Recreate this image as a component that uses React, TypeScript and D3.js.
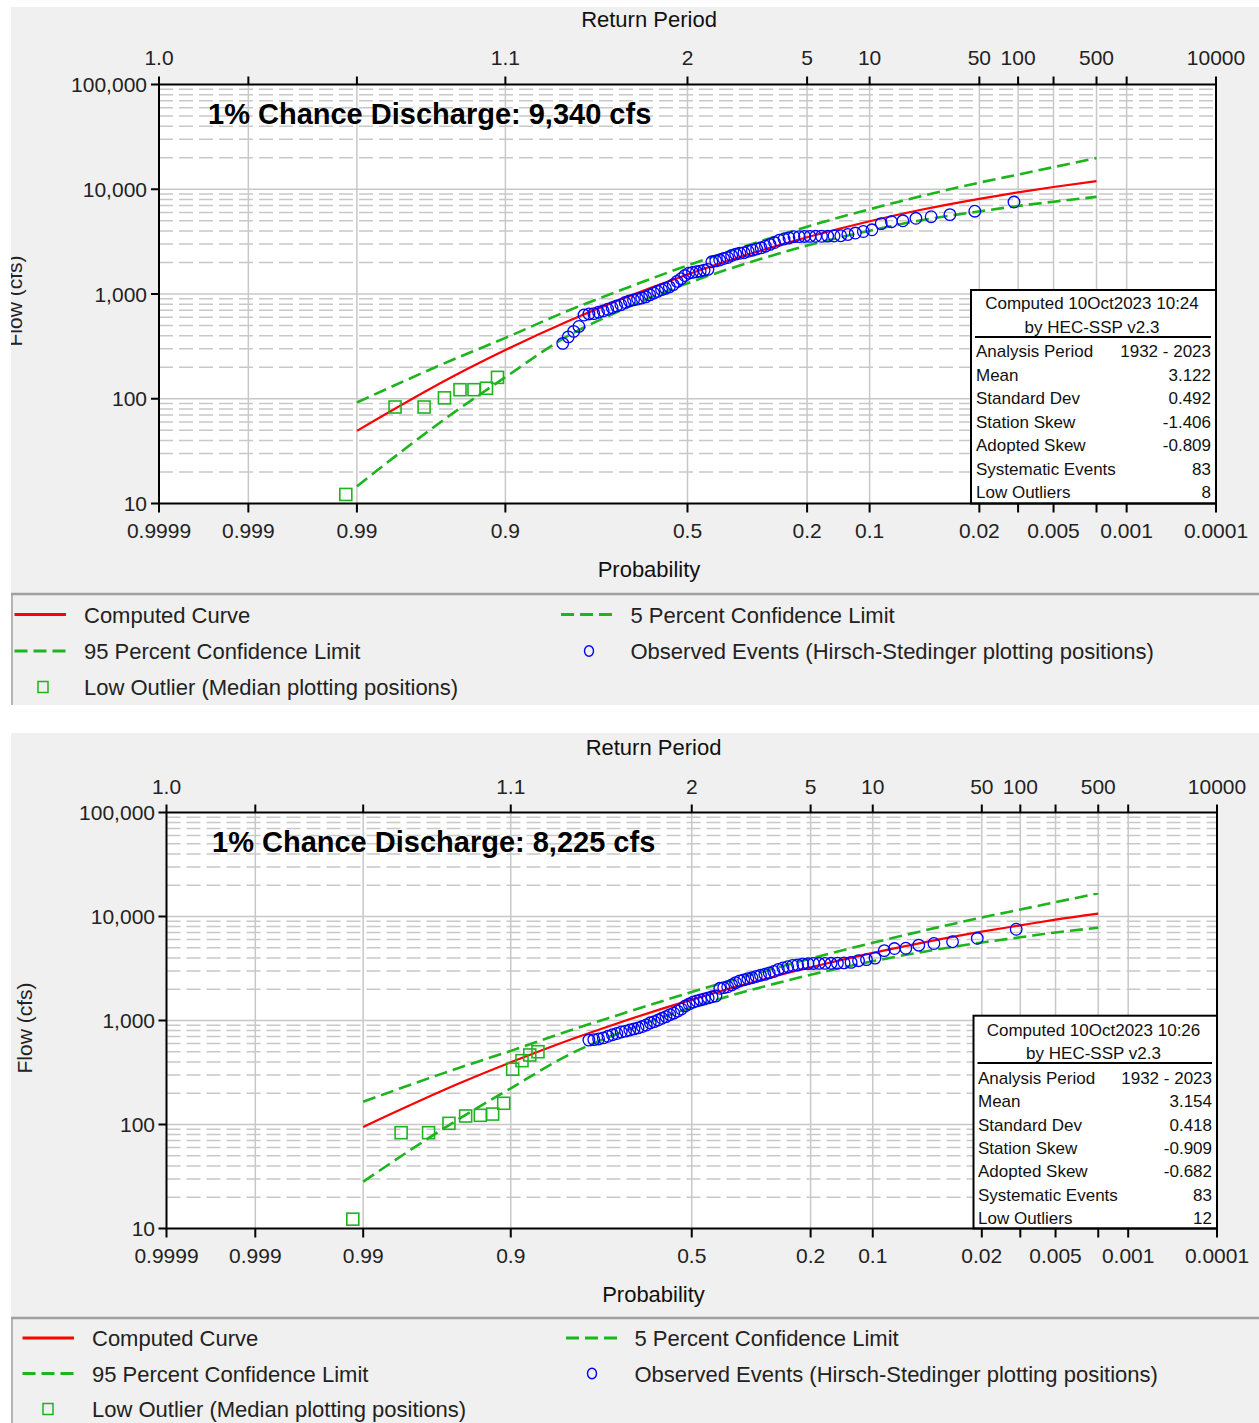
import React from 'react';
import * as d3 from 'd3';

const FONT = "'Liberation Sans', Arial, Helvetica, sans-serif";

// ---------- shared axis definitions ----------
const probTicks = [0.9999, 0.999, 0.99, 0.9, 0.5, 0.2, 0.1, 0.02, 0.01, 0.005, 0.002, 0.001, 0.0001];
const probLabels = ['0.9999', '0.999', '0.99', '0.9', '0.5', '0.2', '0.1', '0.02', '', '0.005', '', '0.001', '0.0001'];
const returnLabels = ['1.0', '', '', '1.1', '2', '5', '10', '50', '100', '', '500', '', '10000'];
const flowTicks = [10, 100, 1000, 10000, 100000];
const flowLabels = ['10', '100', '1,000', '10,000', '100,000'];

const statLabels = ['Analysis Period', 'Mean', 'Standard Dev', 'Station Skew', 'Adopted Skew', 'Systematic Events', 'Low Outliers'];
const legendLabels = [
  'Computed Curve',
  '5 Percent Confidence Limit',
  '95 Percent Confidence Limit',
  'Observed Events (Hirsch-Stedinger plotting positions)',
  'Low Outlier (Median plotting positions)',
];

// exceedance probabilities at which the frequency curves are tabulated
const curveProbs = [0.99, 0.95, 0.9, 0.8, 0.7, 0.5, 0.3, 0.2, 0.1, 0.05, 0.02, 0.01, 0.005, 0.002];

// ---------- run computed 10Oct2023 10:24 ----------
const computedA = [49.4, 165, 292, 550, 832, 1538, 2620, 3483, 4945, 6373, 8100, 9340, 10500, 11950];
const upperA = [92, 238, 381, 692, 1019, 1871, 3224, 4385, 6446, 8597, 11570, 13810, 16260, 19840];
const lowerA = [14.6, 73.7, 160.7, 398, 646, 1265, 2180, 2897, 4020, 5062, 6145, 6924, 7606, 8460];
const obsProbsA = [
  0.0108, 0.0216, 0.0324, 0.0432, 0.054, 0.0648, 0.0756, 0.0864, 0.0972, 0.108,
  0.1188, 0.1296, 0.1404, 0.1512, 0.162, 0.1728, 0.1836, 0.1944, 0.2052, 0.216,
  0.2268, 0.2376, 0.2484, 0.2592, 0.27, 0.2808, 0.2916, 0.3024, 0.3132, 0.324,
  0.3348, 0.3456, 0.3564, 0.3672, 0.378, 0.3888, 0.3996, 0.4104, 0.4212, 0.432,
  0.4428, 0.4536, 0.4644, 0.4752, 0.486, 0.4968, 0.5076, 0.5184, 0.5292, 0.54,
  0.5508, 0.5616, 0.5724, 0.5832, 0.594, 0.6048, 0.6156, 0.6264, 0.6372, 0.648,
  0.6588, 0.6696, 0.6804, 0.6912, 0.702, 0.7128, 0.7236, 0.7344, 0.7452, 0.756,
  0.7668, 0.7776, 0.7884, 0.7992, 0.81,
];
const obsFlowsA = [
  7550, 6170, 5720, 5470, 5280, 5000, 4900, 4700, 4100, 3950,
  3820, 3700, 3600, 3580, 3570, 3560, 3555, 3550, 3545, 3530,
  3520, 3430, 3350, 3260, 3100, 2980, 2860, 2760, 2690, 2620,
  2560, 2480, 2450, 2400, 2330, 2230, 2180, 2110, 2070, 2030,
  1720, 1690, 1650, 1630, 1610, 1580, 1500, 1400, 1320, 1230,
  1170, 1130, 1100, 1060, 1020, 980, 940, 915, 895, 878,
  860, 830, 790, 770, 740, 715, 690, 670, 650, 645,
  630, 490, 440, 390, 338,
];
const lowProbsA = [0.9094, 0.9214, 0.9335, 0.9453, 0.9564, 0.9681, 0.9802, 0.9919];
const lowFlowsA = [160, 126, 122, 122, 102, 83.4, 83.4, 12.2];
const statsA = ['1932 - 2023', '3.122', '0.492', '-1.406', '-0.809', '83', '8'];
const stampA = 'Computed 10Oct2023 10:24';

// ---------- run computed 10Oct2023 10:26 ----------
const computedB = [94.8, 249, 396, 667, 942, 1588, 2522, 3247, 4464, 5648, 7164, 8225, 9325, 10650];
const upperB = [165.6, 351.7, 510.6, 820, 1125, 1879, 3012, 3950, 5594, 7325, 9775, 11670, 13730, 16730];
const lowerB = [28.2, 113.8, 222.9, 490, 748.5, 1336, 2147, 2751, 3712, 4591, 5625, 6311, 7024, 7789];
const obsProbsB = [
  0.0108, 0.0216, 0.0324, 0.0432, 0.054, 0.0648, 0.0756, 0.0864, 0.0972, 0.108,
  0.1188, 0.1296, 0.1404, 0.1512, 0.162, 0.1728, 0.1836, 0.1944, 0.2052, 0.216,
  0.2268, 0.2376, 0.2484, 0.2592, 0.27, 0.2808, 0.2916, 0.3024, 0.3132, 0.324,
  0.3348, 0.3456, 0.3564, 0.3672, 0.378, 0.3888, 0.3996, 0.4104, 0.4212, 0.432,
  0.4428, 0.4536, 0.4644, 0.4752, 0.486, 0.4968, 0.5076, 0.5184, 0.5292, 0.54,
  0.5508, 0.5616, 0.5724, 0.5832, 0.594, 0.6048, 0.6156, 0.6264, 0.6372, 0.648,
  0.6588, 0.6696, 0.6804, 0.6912, 0.702, 0.7128, 0.7236, 0.7344, 0.7452, 0.756,
  0.7668,
];
const obsFlowsB = [
  7540, 6170, 5720, 5500, 5300, 4950, 4920, 4700, 3980, 3850,
  3760, 3620, 3580, 3560, 3550, 3545, 3540, 3535, 3525, 3500,
  3430, 3380, 3290, 3200, 3100, 2960, 2870, 2780, 2720, 2650,
  2580, 2520, 2460, 2400, 2310, 2200, 2110, 2070, 2040, 1720,
  1690, 1650, 1610, 1575, 1540, 1500, 1440, 1380, 1290, 1230,
  1175, 1140, 1090, 1050, 1010, 975, 950, 905, 875, 850,
  830, 810, 790, 775, 750, 730, 705, 680, 665, 655,
  648,
];
const lowProbsB = [0.8619, 0.8743, 0.8853, 0.8976, 0.9085, 0.9207, 0.9328, 0.9453, 0.9572, 0.9688, 0.9802, 0.9918];
const lowFlowsB = [501, 466, 411, 340, 160, 126, 122.5, 120.7, 102.6, 83.4, 83.4, 12.3];
const statsB = ['1932 - 2023', '3.154', '0.418', '-0.909', '-0.682', '83', '12'];
const stampB = 'Computed 10Oct2023 10:26';

// ---------- colours ----------
const RED = '#ff0000';
const GREEN = '#1db41d';
const BLUE = '#0000ff';
const GRID = '#c8c8c8';
const PANEL_BG = '#f0f0f0';

// inverse standard normal CDF (Acklam's rational approximation)
function qnorm(p: number): number {
  const a = [-3.969683028665376e1, 2.209460984245205e2, -2.759285104469687e2, 1.38357751867269e2, -3.066479806614716e1, 2.506628277459239];
  const b = [-5.447609879822406e1, 1.615858368580409e2, -1.556989798598866e2, 6.680131188771972e1, -1.328068155288572e1];
  const c = [-7.784894002430293e-3, -3.223964580411365e-1, -2.400758277161838, -2.549732539343734, 4.374664141464968, 2.938163982698783];
  const d = [7.784695709041462e-3, 3.224671290700398e-1, 2.445134137142996, 3.754408661907416];
  const pl = 0.02425;
  if (p < pl) {
    const q = Math.sqrt(-2 * Math.log(p));
    return (((((c[0] * q + c[1]) * q + c[2]) * q + c[3]) * q + c[4]) * q + c[5]) /
      ((((d[0] * q + d[1]) * q + d[2]) * q + d[3]) * q + 1);
  }
  if (p > 1 - pl) {
    const q = Math.sqrt(-2 * Math.log(1 - p));
    return -(((((c[0] * q + c[1]) * q + c[2]) * q + c[3]) * q + c[4]) * q + c[5]) /
      ((((d[0] * q + d[1]) * q + d[2]) * q + d[3]) * q + 1);
  }
  const q = p - 0.5;
  const r = q * q;
  return (((((a[0] * r + a[1]) * r + a[2]) * r + a[3]) * r + a[4]) * r + a[5]) * q /
    (((((b[0] * r + b[1]) * r + b[2]) * r + b[3]) * r + b[4]) * r + 1);
}
// normal-probability position of an exceedance probability
const zOf = (pExceed: number) => qnorm(1 - pExceed);

type Layout = {
  id: string;
  bgTop: number; bgBottom: number;
  left: number; right: number; top: number; bottom: number;
  returnTitleY: number; titleCx: number;
  topLabelY: number; bottomLabelY: number; probTitleY: number;
  flowTitleX: number; flowTitleCy: number; flowLabelRight: number;
  chanceX: number; chanceY: number;
  boxLeft: number; boxTop: number; stampCx: number; stampY: number; byY: number; sepY: number;
  sepX1: number; sepX2: number; rowY0: number; rowStep: number; statLabelX: number; statValueX: number;
  legTop: number; legRows: number[]; c1x1: number; c1x2: number; c1tx: number;
  c2x1: number; c2x2: number; c2tx: number; circleX: number; squareX: number;
};

const layoutA: Layout = {
  id: 'a', bgTop: 7, bgBottom: 705,
  left: 159, right: 1216, top: 84.5, bottom: 503.5,
  returnTitleY: 26.5, titleCx: 649, topLabelY: 65, bottomLabelY: 538, probTitleY: 577,
  flowTitleX: 21.5, flowTitleCy: 301, flowLabelRight: 147,
  chanceX: 208, chanceY: 123.5,
  boxLeft: 971, boxTop: 290, stampCx: 1092, stampY: 309, byY: 333, sepY: 337, sepX1: 975, sepX2: 1211,
  rowY0: 357, rowStep: 23.5, statLabelX: 976, statValueX: 1211,
  legTop: 594, legRows: [614.5, 651, 687], c1x1: 14.5, c1x2: 66, c1tx: 84,
  c2x1: 561, c2x2: 612, c2tx: 630.5, circleX: 589, squareX: 43,
};

const layoutB: Layout = {
  id: 'b', bgTop: 733, bgBottom: 1423,
  left: 166.5, right: 1217, top: 812.5, bottom: 1228.5,
  returnTitleY: 755, titleCx: 653.5, topLabelY: 794, bottomLabelY: 1263, probTitleY: 1302,
  flowTitleX: 32, flowTitleCy: 1028, flowLabelRight: 155,
  chanceX: 212, chanceY: 851.5,
  boxLeft: 973.5, boxTop: 1015.7, stampCx: 1093.5, stampY: 1036, byY: 1059, sepY: 1063, sepX1: 977.5, sepX2: 1212,
  rowY0: 1084, rowStep: 23.3, statLabelX: 978, statValueX: 1212,
  legTop: 1318, legRows: [1338, 1373.5, 1409], c1x1: 22.5, c1x2: 74, c1tx: 92,
  c2x1: 566, c2x2: 618, c2tx: 634.5, circleX: 592, squareX: 48,
};

type PanelProps = {
  L: Layout;
  computed: number[]; upper: number[]; lower: number[];
  obsProbs: number[]; obsFlows: number[];
  lowProbs: number[]; lowFlows: number[];
  stats: string[]; stamp: string;
};

function FrequencyPanel({ L, computed, upper, lower, obsProbs, obsFlows, lowProbs, lowFlows, stats, stamp }: PanelProps) {
  const x = d3.scaleLinear().domain([zOf(0.9999), zOf(0.0001)]).range([L.left, L.right]);
  const y = d3.scaleLog().domain([10, 100000]).range([L.bottom, L.top]);
  const px = (p: number) => x(zOf(p));

  const line = d3.line<number>()
    .x((_, i) => px(curveProbs[i]))
    .y((v) => y(v))
    .curve(d3.curveMonotoneX);

  const allTicks = y.ticks();
  const isDecade = (v: number) => Math.abs(Math.log10(v) - Math.round(Math.log10(v))) < 1e-9;
  const majors = allTicks.filter((v) => isDecade(v) && v > 10 && v < 100000);
  const minors = allTicks.filter((v) => !isDecade(v));
  const interiorProbs = probTicks.slice(1, -1);

  const chanceValue = computed[curveProbs.indexOf(0.01)];
  const chanceText = `1% Chance Discharge: ${d3.format(',')(chanceValue)} cfs`;
  const clipId = `panel-clip-${L.id}`;
  const plotClip = `plot-clip-${L.id}`;

  const legRow = L.legRows;
  return (
    <g>
      <defs>
        <clipPath id={clipId}>
          <rect x={11} y={L.bgTop} width={1259 - 11} height={L.bgBottom - L.bgTop} />
        </clipPath>
        <clipPath id={plotClip}>
          <rect x={L.left} y={L.top} width={L.right - L.left} height={L.bottom - L.top} />
        </clipPath>
      </defs>
      <rect x={11} y={L.bgTop} width={1259 - 11} height={L.bgBottom - L.bgTop} fill={PANEL_BG} />

      {/* plot area */}
      <rect x={L.left} y={L.top} width={L.right - L.left} height={L.bottom - L.top} fill="#ffffff" />
      <g clipPath={`url(#${plotClip})`}>
        {minors.map((v) => (
          <line key={`mn${v}`} x1={L.left} x2={L.right} y1={y(v)} y2={y(v)} stroke={GRID} strokeWidth={1.5} strokeDasharray="14,6" />
        ))}
        {majors.map((v) => (
          <line key={`mj${v}`} x1={L.left} x2={L.right} y1={y(v)} y2={y(v)} stroke={GRID} strokeWidth={1.5} />
        ))}
        {interiorProbs.map((p) => (
          <line key={`v${p}`} x1={px(p)} x2={px(p)} y1={L.top} y2={L.bottom} stroke={GRID} strokeWidth={1.5} />
        ))}

        <path d={line(upper) || ''} fill="none" stroke={GREEN} strokeWidth={2.6} strokeDasharray="13,6" />
        <path d={line(lower) || ''} fill="none" stroke={GREEN} strokeWidth={2.6} strokeDasharray="13,6" />
        <path d={line(computed) || ''} fill="none" stroke={RED} strokeWidth={2.2} />

        {obsProbs.map((p, i) => (
          <circle key={`o${i}`} cx={px(p)} cy={y(obsFlows[i])} r={5.8} fill="none" stroke={BLUE} strokeWidth={1.3} />
        ))}
        {lowProbs.map((p, i) => (
          <rect key={`l${i}`} x={px(p) - 6} y={y(lowFlows[i]) - 6} width={12} height={12} fill="none" stroke={GREEN} strokeWidth={1.6} />
        ))}
      </g>

      <text x={L.chanceX} y={L.chanceY} fontFamily={FONT} fontSize={29} fontWeight="bold" fill="#000">{chanceText}</text>

      {/* statistics box */}
      <rect x={L.boxLeft} y={L.boxTop} width={L.right - L.boxLeft} height={L.bottom - L.boxTop} fill="#ffffff" stroke="#000" strokeWidth={2} />
      <text x={L.stampCx} y={L.stampY} textAnchor="middle" fontFamily={FONT} fontSize={17} fill="#111">{stamp}</text>
      <text x={L.stampCx} y={L.byY} textAnchor="middle" fontFamily={FONT} fontSize={17} fill="#111">by HEC-SSP v2.3</text>
      <line x1={L.sepX1} x2={L.sepX2} y1={L.sepY} y2={L.sepY} stroke="#000" strokeWidth={2} />
      {statLabels.map((s, i) => (
        <g key={`s${i}`}>
          <text x={L.statLabelX} y={L.rowY0 + i * L.rowStep} fontFamily={FONT} fontSize={17} fill="#111">{s}</text>
          <text x={L.statValueX} y={L.rowY0 + i * L.rowStep} textAnchor="end" fontFamily={FONT} fontSize={17} fill="#111">{stats[i]}</text>
        </g>
      ))}

      {/* frame */}
      <rect x={L.left} y={L.top} width={L.right - L.left} height={L.bottom - L.top} fill="none" stroke="#000" strokeWidth={2} />

      {/* probability axis (bottom) and return period axis (top) */}
      {probTicks.map((p, i) => (
        <g key={`t${p}`}>
          <line x1={px(p)} x2={px(p)} y1={L.bottom} y2={L.bottom + 9} stroke="#000" strokeWidth={2} />
          <line x1={px(p)} x2={px(p)} y1={L.top} y2={L.top - 8} stroke="#000" strokeWidth={2} />
          {probLabels[i] && (
            <text x={px(p)} y={L.bottomLabelY} textAnchor="middle" fontFamily={FONT} fontSize={21} fill="#222">{probLabels[i]}</text>
          )}
          {returnLabels[i] && (
            <text x={px(p)} y={L.topLabelY} textAnchor="middle" fontFamily={FONT} fontSize={21} fill="#222">{returnLabels[i]}</text>
          )}
        </g>
      ))}

      {/* flow axis */}
      {flowTicks.map((v, i) => (
        <g key={`f${v}`}>
          <line x1={L.left - 8} x2={L.left} y1={y(v)} y2={y(v)} stroke="#000" strokeWidth={2} />
          <text x={L.flowLabelRight} y={y(v) + 7.5} textAnchor="end" fontFamily={FONT} fontSize={21} fill="#222">{flowLabels[i]}</text>
        </g>
      ))}

      <text x={L.titleCx} y={L.returnTitleY} textAnchor="middle" fontFamily={FONT} fontSize={22} fill="#111">Return Period</text>
      <text x={L.titleCx} y={L.probTitleY} textAnchor="middle" fontFamily={FONT} fontSize={22} fill="#111">Probability</text>
      <g clipPath={`url(#${clipId})`}>
        <text
          transform={`translate(${L.flowTitleX},${L.flowTitleCy}) rotate(-90)`}
          textAnchor="middle" fontFamily={FONT} fontSize={21} fill="#222"
        >Flow (cfs)</text>
      </g>

      {/* legend */}
      <line x1={11} x2={1259} y1={L.legTop} y2={L.legTop} stroke="#a0a0a0" strokeWidth={2.5} />
      <line x1={12} x2={12} y1={L.legTop} y2={L.bgBottom} stroke="#a0a0a0" strokeWidth={1.5} />

      <line x1={L.c1x1} x2={L.c1x2} y1={legRow[0]} y2={legRow[0]} stroke={RED} strokeWidth={3} />
      <text x={L.c1tx} y={legRow[0] + 8} fontFamily={FONT} fontSize={22} fill="#222">{legendLabels[0]}</text>

      <line x1={L.c2x1} x2={L.c2x2} y1={legRow[0]} y2={legRow[0]} stroke={GREEN} strokeWidth={3} strokeDasharray="13,6" />
      <text x={L.c2tx} y={legRow[0] + 8} fontFamily={FONT} fontSize={22} fill="#222">{legendLabels[1]}</text>

      <line x1={L.c1x1} x2={L.c1x2} y1={legRow[1]} y2={legRow[1]} stroke={GREEN} strokeWidth={3} strokeDasharray="13,6" />
      <text x={L.c1tx} y={legRow[1] + 8} fontFamily={FONT} fontSize={22} fill="#222">{legendLabels[2]}</text>

      <ellipse cx={L.circleX} cy={legRow[1]} rx={4.5} ry={5.2} fill="none" stroke={BLUE} strokeWidth={1.4} />
      <text x={L.c2tx} y={legRow[1] + 8} fontFamily={FONT} fontSize={22} fill="#222">{legendLabels[3]}</text>

      <rect x={L.squareX - 5} y={legRow[2] - 5.5} width={10} height={11} fill="none" stroke={GREEN} strokeWidth={1.5} />
      <text x={L.c1tx} y={legRow[2] + 8} fontFamily={FONT} fontSize={22} fill="#222">{legendLabels[4]}</text>
    </g>
  );
}

export default function App() {
  return (
    <svg
      width={1259}
      height={1423}
      viewBox="0 0 1259 1423"
      style={{ position: 'absolute', left: 0, top: 0, display: 'block', background: '#ffffff' }}
    >
      <rect x={0} y={0} width={1259} height={1423} fill="#ffffff" />
      <FrequencyPanel
        L={layoutA}
        computed={computedA} upper={upperA} lower={lowerA}
        obsProbs={obsProbsA} obsFlows={obsFlowsA}
        lowProbs={lowProbsA} lowFlows={lowFlowsA}
        stats={statsA} stamp={stampA}
      />
      <FrequencyPanel
        L={layoutB}
        computed={computedB} upper={upperB} lower={lowerB}
        obsProbs={obsProbsB} obsFlows={obsFlowsB}
        lowProbs={lowProbsB} lowFlows={lowFlowsB}
        stats={statsB} stamp={stampB}
      />
    </svg>
  );
}
